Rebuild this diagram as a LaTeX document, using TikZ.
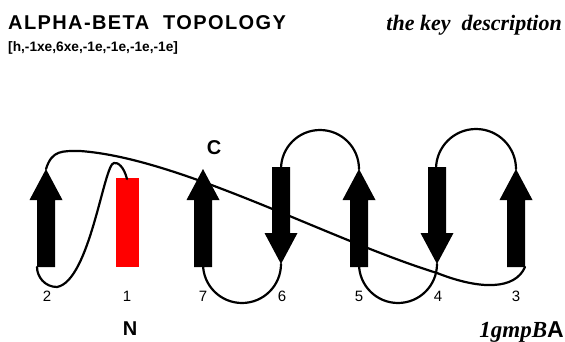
\documentclass[tikz,border=0pt]{standalone}
\usepackage{fontspec}
\setmainfont{Liberation Sans}
\newfontfamily\keyfont{Liberation Serif}

\begin{document}
\begin{tikzpicture}[x=1pt,y=1pt,
    strand/.style={fill=black},
    helix/.style={fill=red},
    loop/.style={line width=2.2pt, line cap=round},
    numlabel/.style={font=\fontsize{15}{15}\selectfont, inner sep=0pt, anchor=base},
    endlabel/.style={font=\bfseries\fontsize{20}{20}\selectfont, inner sep=0pt, anchor=base}]
    \useasboundingbox (0,0) rectangle (565,341);

    % Header
    \node[anchor=base west, inner sep=0pt, font=\bfseries\fontsize{20}{20}\selectfont\addfontfeature{LetterSpace=7}] (title) at (8,312) {ALPHA-BETA\ \ TOPOLOGY};
    \node[anchor=base west, inner sep=0pt, font=\bfseries\fontsize{13.7}{13.7}\selectfont] (code) at (8,290) {[h,-1xe,6xe,-1e,-1e,-1e,-1e]};
    \node[anchor=base east, inner sep=0pt, font=\keyfont\bfseries\itshape\fontsize{22}{22}\selectfont] (key) at (562,311) {the key\ \ description};

    % Helix
    \fill[helix] (116,74) rectangle (139,163);

    % Strands up
    \foreach \x in {46,203,359,516}
        \fill[strand] (\x-9,74) -- (\x-9,141) -- (\x-16.5,141) -- (\x,172) -- (\x+16.5,141) -- (\x+9,141) -- (\x+9,74) -- cycle;
    % Strands down
    \foreach \x in {281,437}
        \fill[strand] (\x-9,174) -- (\x-9,108) -- (\x-16.5,108) -- (\x,77) -- (\x+16.5,108) -- (\x+9,108) -- (\x+9,174) -- cycle;

    % Loop ends
    \coordinate (h1top) at (127,162);
    \coordinate (s2bot) at (37,74);
    \coordinate (s2top) at (46,172);
    \coordinate (s3bot) at (525,74);
    \coordinate (s3top) at (516,172);
    \coordinate (s4bot) at (437,77);
    \coordinate (s5top) at (359,172);
    \coordinate (s6bot) at (281,77);

    % Loops
    \draw[loop] (h1top) .. controls (124,174) and (118,179) .. (114,178)
        .. controls (104,178) and (90,60) .. (57,54)
        .. controls (45,54) and (37,64) .. (s2bot);
    \draw[loop] (s2top) .. controls (52,191) and (62,190) .. (80,190)
        .. controls (180,183) and (330,101) .. (437,68)
        .. controls (480,51) and (515,51) .. (s3bot);
    \draw[loop] (s3top) arc[start angle=0, end angle=180, radius=40];
    \draw[loop] (s4bot) arc[start angle=0, end angle=-180, radius=39];
    \draw[loop] (s5top) arc[start angle=0, end angle=180, radius=39];
    \draw[loop] (s6bot) arc[start angle=0, end angle=-180, radius=39];

    % Labels
    \node[numlabel] (l2) at (47,40) {2};
    \node[numlabel] (l1) at (127,40) {1};
    \node[numlabel] (l7) at (203,40) {7};
    \node[numlabel] (l6) at (282,40) {6};
    \node[numlabel] (l5) at (359,40) {5};
    \node[numlabel] (l4) at (438,40) {4};
    \node[numlabel] (l3) at (516,40) {3};
    \node[endlabel] (nterm) at (130,6) {N};
    \node[endlabel] (cterm) at (214,187) {C};
    \node[anchor=base east, inner sep=0pt, font=\fontsize{23}{23}\selectfont] (pdb) at (564,4) {{\keyfont\bfseries\itshape 1gmpB}\textbf{A}};
\end{tikzpicture}
\end{document}
